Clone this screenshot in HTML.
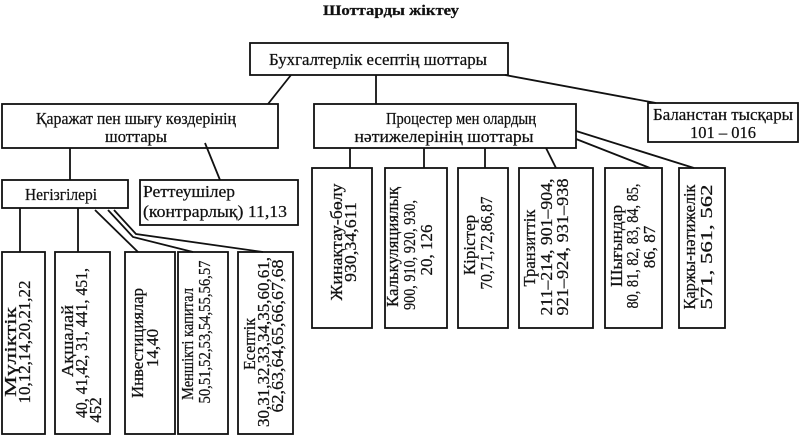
<!DOCTYPE html>
<html><head><meta charset="utf-8"><style>
html,body{margin:0;padding:0;background:#fff;}
svg{display:block;}
text{font-family:"Liberation Serif",serif;font-size:16.5px;fill:#111;stroke:#111;stroke-width:0.25;}
.r text{font-size:17px;}
</style></head><body>
<svg width="800" height="435" viewBox="0 0 800 435" xmlns="http://www.w3.org/2000/svg">
<g fill="none" stroke="#111" stroke-width="1.8">
<rect x="250" y="43" width="258" height="32"/>
<rect x="2" y="104" width="276" height="44"/>
<rect x="314" y="104" width="262" height="44"/>
<rect x="648" y="103" width="150" height="39"/>
<rect x="2" y="180" width="126" height="28"/>
<rect x="140" y="180" width="158" height="45"/>
<rect x="2" y="252" width="43" height="182"/>
<rect x="55" y="252" width="55" height="182"/>
<rect x="125" y="252" width="50" height="182"/>
<rect x="178" y="252" width="50" height="182"/>
<rect x="238" y="252" width="55" height="182"/>
<rect x="312" y="168" width="60" height="160"/>
<rect x="385" y="168" width="62" height="160"/>
<rect x="458" y="168" width="50" height="160"/>
<rect x="519" y="168" width="74" height="160"/>
<rect x="605" y="168" width="57" height="160"/>
<rect x="679" y="168" width="46" height="160"/>
<line x1="291" y1="75" x2="268" y2="104"/>
<line x1="376" y1="75" x2="376" y2="104"/>
<line x1="505" y1="75" x2="656" y2="103"/>
<line x1="70" y1="148" x2="70" y2="180"/>
<line x1="205" y1="143" x2="220" y2="180"/>
<line x1="350" y1="148" x2="350" y2="168"/>
<line x1="424" y1="148" x2="424" y2="168"/>
<line x1="485" y1="148" x2="485" y2="168"/>
<line x1="546" y1="148" x2="556" y2="168"/>
<line x1="576" y1="139" x2="650" y2="168"/>
<line x1="576" y1="131" x2="694" y2="168"/>
<line x1="20" y1="208" x2="20" y2="252"/>
<line x1="78" y1="208" x2="78" y2="252"/>
<line x1="95" y1="210" x2="138" y2="252"/>
<polyline points="108,210 133,237 193,252"/>
<polyline points="114,210 136,234 263,252"/>
</g>
<text x="391" y="15" text-anchor="middle" font-weight="bold" style="font-size:15px" textLength="136" lengthAdjust="spacingAndGlyphs">Шоттарды жіктеу</text>
<text x="378" y="65" text-anchor="middle" textLength="218" lengthAdjust="spacingAndGlyphs">Бухгалтерлік есептің шоттары</text>
<text x="136" y="124" text-anchor="middle" textLength="200" lengthAdjust="spacingAndGlyphs">Қаражат пен шығу көздерінің</text>
<text x="136" y="142" text-anchor="middle">шоттары</text>
<text x="461" y="124" text-anchor="middle" textLength="150" lengthAdjust="spacingAndGlyphs">Процестер мен олардың</text>
<text x="444" y="142" text-anchor="middle" textLength="179" lengthAdjust="spacingAndGlyphs">нәтижелерінің шоттары</text>
<text x="723" y="120" text-anchor="middle" textLength="140" lengthAdjust="spacingAndGlyphs">Баланстан тысқары</text>
<text x="723" y="138" text-anchor="middle">101 – 016</text>
<text x="25" y="200" textLength="72" lengthAdjust="spacingAndGlyphs">Негізгілері</text>
<text x="143" y="197" textLength="92" lengthAdjust="spacingAndGlyphs">Реттеушілер</text>
<text x="143" y="217" textLength="144" lengthAdjust="spacingAndGlyphs">(контрарлық) 11,13</text>
<g class="r" text-anchor="middle" lengthAdjust="spacingAndGlyphs">
<text transform="translate(16,352) rotate(-90)" textLength="90" lengthAdjust="spacingAndGlyphs">Мүліктік</text>
<text transform="translate(30,342) rotate(-90)" textLength="123" lengthAdjust="spacingAndGlyphs">10,12,14,20,21,22</text>
<text transform="translate(73,341) rotate(-90)" textLength="72" lengthAdjust="spacingAndGlyphs">Ақшалай</text>
<text transform="translate(87,343) rotate(-90)" textLength="150" lengthAdjust="spacingAndGlyphs">40, 41,42, 31, 441, 451,</text>
<text transform="translate(101,410) rotate(-90)">452</text>
<text transform="translate(143,343) rotate(-90)" textLength="110" lengthAdjust="spacingAndGlyphs">Инвестициялар</text>
<text transform="translate(158,348) rotate(-90)">14,40</text>
<text transform="translate(193,344) rotate(-90)" textLength="112" lengthAdjust="spacingAndGlyphs">Меншікті капитал</text>
<text transform="translate(210,332) rotate(-90)" textLength="143" lengthAdjust="spacingAndGlyphs">50,51,52,53,54,55,56,57</text>
<text transform="translate(255,344) rotate(-90)" textLength="52" lengthAdjust="spacingAndGlyphs">Есептік</text>
<text transform="translate(269,342) rotate(-90)" textLength="170" lengthAdjust="spacingAndGlyphs">30,31,32,33,34,35,60,61,</text>
<text transform="translate(283,336) rotate(-90)" textLength="153" lengthAdjust="spacingAndGlyphs">62,63,64,65,66,67,68</text>
<text transform="translate(342,242) rotate(-90)" textLength="117" lengthAdjust="spacingAndGlyphs">Жинақтау-бөлу</text>
<text transform="translate(356,242) rotate(-90)" textLength="80" lengthAdjust="spacingAndGlyphs">930,34,611</text>
<text transform="translate(398,247) rotate(-90)" textLength="120" lengthAdjust="spacingAndGlyphs">Калькуляциялық</text>
<text transform="translate(415,255) rotate(-90)" textLength="110" lengthAdjust="spacingAndGlyphs">900, 910, 920, 930,</text>
<text transform="translate(432,250) rotate(-90)">20, 126</text>
<text transform="translate(475,245) rotate(-90)">Кірістер</text>
<text transform="translate(492,243) rotate(-90)" textLength="93" lengthAdjust="spacingAndGlyphs">70,71,72,86,87</text>
<text transform="translate(535,248) rotate(-90)" textLength="77" lengthAdjust="spacingAndGlyphs">Транзиттік</text>
<text transform="translate(552,247) rotate(-90)" textLength="137" lengthAdjust="spacingAndGlyphs">211–214, 901–904,</text>
<text transform="translate(568,247) rotate(-90)" textLength="137" lengthAdjust="spacingAndGlyphs">921–924, 931–938</text>
<text transform="translate(622,246) rotate(-90)" textLength="82" lengthAdjust="spacingAndGlyphs">Шығындар</text>
<text transform="translate(638,246) rotate(-90)" textLength="125" lengthAdjust="spacingAndGlyphs">80, 81, 82, 83, 84, 85,</text>
<text transform="translate(655,247) rotate(-90)">86, 87</text>
<text transform="translate(695,247) rotate(-90)" textLength="125" lengthAdjust="spacingAndGlyphs">Қаржы-нәтижелік</text>
<text transform="translate(712,247) rotate(-90)" textLength="125" lengthAdjust="spacingAndGlyphs">571, 561, 562</text>
</g>
</svg>
</body></html>
